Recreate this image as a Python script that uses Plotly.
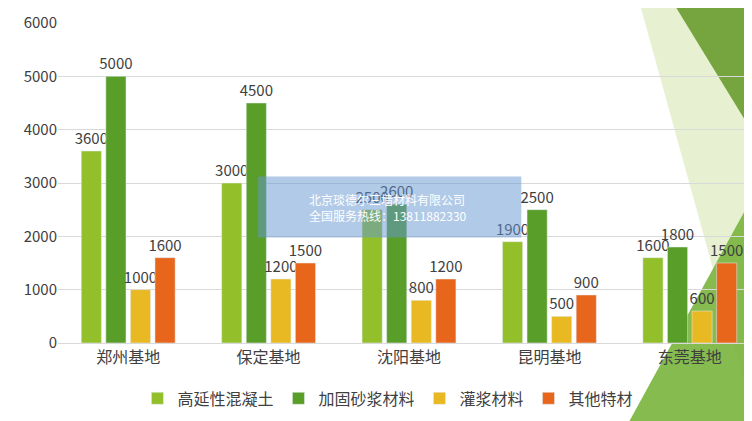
import plotly.graph_objects as go

categories = ["郑州基地", "保定基地", "沈阳基地", "昆明基地", "东莞基地"]
series_names = ["高延性混凝土", "加固砂浆材料", "灌浆材料", "其他特材"]
s1 = [3600, 3000, 2500, 1900, 1600]
s2 = [5000, 4500, 2600, 2500, 1800]
s3 = [1000, 1200, 800, 500, 600]
s4 = [1600, 1500, 1200, 900, 1500]
colors = ["#93c02a", "#5a9e2a", "#e8b922", "#e8661c"]

fig = go.Figure()
for name, vals, c in zip(series_names, [s1, s2, s3, s4], colors):
    fig.add_trace(go.Bar(x=categories, y=vals, name=name, marker_color=c,
                         text=vals, textposition="outside", constraintext="none",
                         textfont=dict(size=15, color="#404040"), cliponaxis=False))

shapes = [
    dict(type="path", xref="paper", yref="paper", path="M 0.83 1.05 L 1.0 1.05 L 1.0 -0.3 Z",
         fillcolor="rgba(215,232,180,0.6)", line_width=0, layer="below"),
    dict(type="path", xref="paper", yref="paper", path="M 0.88 1.05 L 1.0 1.05 L 1.0 0.62 Z",
         fillcolor="rgba(105,155,45,0.9)", line_width=0, layer="below"),
    dict(type="path", xref="paper", yref="paper", path="M 0.80 -0.3 L 1.0 -0.3 L 1.0 0.5 Z",
         fillcolor="rgba(120,180,60,0.9)", line_width=0, layer="below"),
    dict(type="rect", xref="paper", yref="paper", x0=0.285, x1=0.66, y0=0.33, y1=0.52,
         fillcolor="rgba(100,150,210,0.5)", line_width=0, layer="above"),
]

fig.update_layout(
    width=752, height=421, paper_bgcolor="white", plot_bgcolor="rgba(0,0,0,0)",
    margin=dict(l=50, r=0, t=15, b=86),
    barmode="group", bargap=0.3, bargroupgap=0.18,
    font=dict(family="Noto Sans CJK SC", color="#404040"),
    yaxis=dict(range=[0, 6000], dtick=1000, gridcolor="#d9d9d9", tickfont=dict(size=15),
               zeroline=False),
    xaxis=dict(tickfont=dict(size=16), showline=True, linecolor="#d9d9d9"),
    legend=dict(orientation="h", x=0.47, xanchor="center", y=-0.12, yanchor="top",
                font=dict(size=16), bgcolor="rgba(0,0,0,0)"),
    shapes=shapes,
    annotations=[dict(xref="paper", yref="paper", x=0.355, y=0.425, xanchor="left",
                      text="北京琰德尔三墙材料有限公司<br>全国服务热线：13811882330",
                      showarrow=False, align="left", font=dict(size=12, color="white"))],
)
fig.write_html("out.html")
